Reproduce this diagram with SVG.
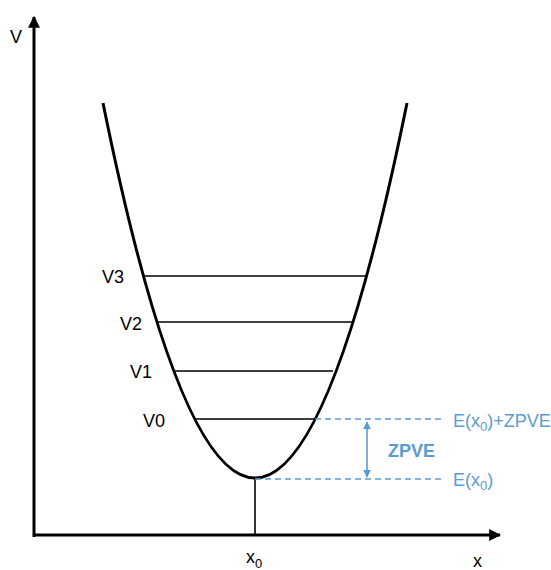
<svg xmlns="http://www.w3.org/2000/svg" width="551" height="570" viewBox="0 0 551 570">
<style>
.t{font-family:"Liberation Sans",Arial,sans-serif;font-size:18px;fill:#000}
.b{font-family:"Liberation Sans",Arial,sans-serif;font-size:18px;fill:#5b9bd5}
.lvl{stroke:#000;stroke-width:1.6;fill:none}
.dash{stroke:#5b9bd5;stroke-width:1.6;stroke-dasharray:6,4;fill:none}
</style>
<defs>
<marker id="ah" viewBox="0 0 10 10" refX="9" refY="5" markerWidth="4" markerHeight="4" orient="auto"><path d="M0,0 L10,5 L0,10 z" fill="#000"/></marker>
<marker id="bh" viewBox="0 0 10 10" refX="9" refY="5" markerWidth="5" markerHeight="5" orient="auto-start-reverse"><path d="M0,0 L10,5 L0,10 z" fill="#5b9bd5"/></marker>
</defs>
<g id="connectors">
<line id="yaxis" x1="34" y1="537" x2="34" y2="17" stroke="#000" stroke-width="3" marker-end="url(#ah)"/>
<line id="xaxis" x1="33" y1="535" x2="500" y2="535" stroke="#000" stroke-width="3" marker-end="url(#ah)"/>
<path id="curve" d="M103,103 Q255,853 407,103" stroke="#000" stroke-width="3" fill="none"/>
<line class="lvl" x1="142" y1="276" x2="366" y2="276"/>
<line class="lvl" x1="157" y1="322" x2="352" y2="322"/>
<line class="lvl" x1="174" y1="371" x2="333" y2="371"/>
<line class="lvl" x1="195" y1="419" x2="315" y2="419"/>
<line class="lvl" x1="255" y1="478" x2="255" y2="535"/>
<line class="dash" x1="315" y1="419" x2="443" y2="419"/>
<line class="dash" x1="255" y1="479" x2="443" y2="479"/>
<line x1="367" y1="422" x2="367" y2="477" stroke="#5b9bd5" stroke-width="1.6" marker-start="url(#bh)" marker-end="url(#bh)"/>
</g>
<g id="labels">
<text class="t" x="10" y="43">V</text>
<text class="t" x="102" y="283">V3</text>
<text class="t" x="120" y="330">V2</text>
<text class="t" x="130" y="378">V1</text>
<text class="t" x="143" y="427">V0</text>
<text class="t" x="246" y="563">x<tspan font-size="13" dy="5">0</tspan></text>
<text class="t" x="473" y="567">x</text>
<text class="b" x="388" y="457" font-weight="bold">ZPVE</text>
<text class="b" x="453" y="427">E(x<tspan font-size="13" dy="4">0</tspan><tspan dy="-4">)+ZPVE</tspan></text>
<text class="b" x="453" y="486">E(x<tspan font-size="13" dy="4">0</tspan><tspan dy="-4">)</tspan></text>
</g>
</svg>
